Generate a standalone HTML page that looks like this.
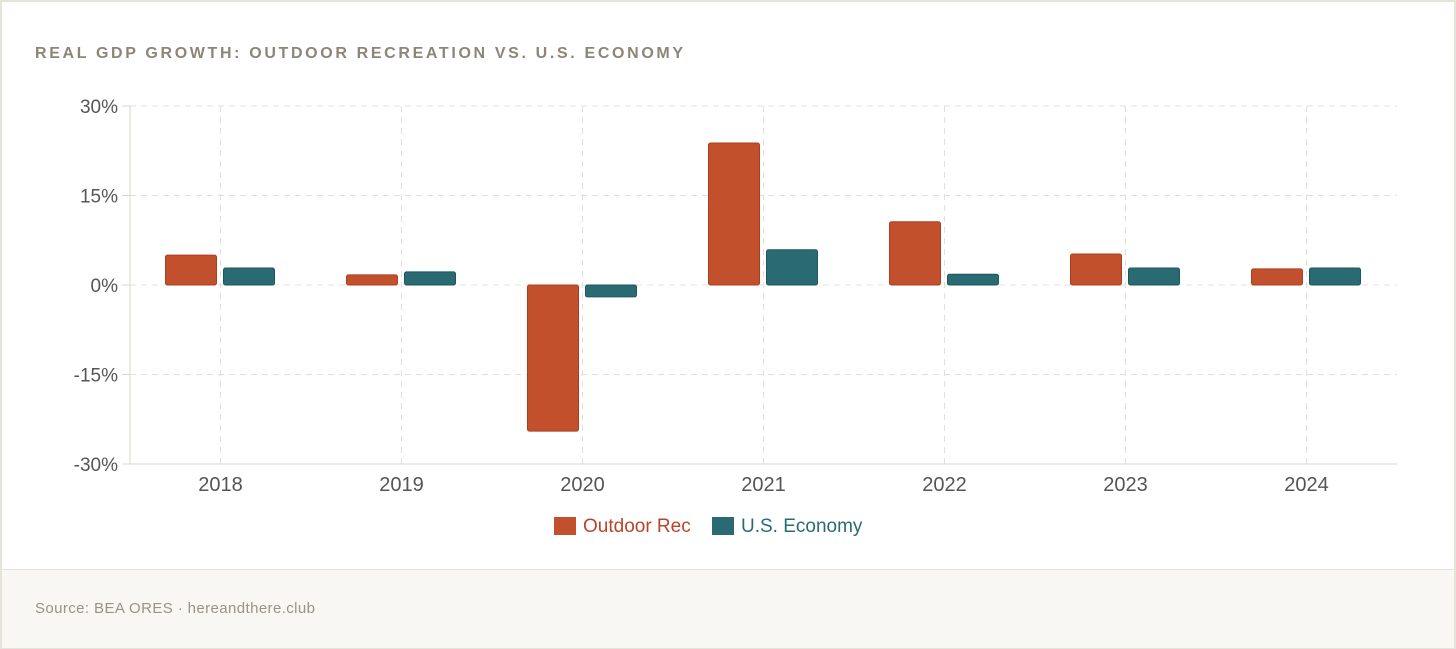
<!DOCTYPE html>
<html><head><meta charset="utf-8"><style>
html,body{margin:0;padding:0;background:#fff;}
body{width:1456px;height:649px;overflow:hidden;font-family:"Liberation Sans",sans-serif;}
.card{position:absolute;left:0;top:0;width:1452px;height:645px;border:2px solid #e6e3da;background:#fff;}
.title{position:absolute;left:33px;top:43px;font-size:16px;font-weight:bold;letter-spacing:2.65px;color:#8d8577;}
.footer{position:absolute;left:0;top:567px;width:1452px;height:78px;background:#f8f7f4;border-top:1px solid #e6e3da;}
.src{position:absolute;left:33px;top:30px;font-size:15px;letter-spacing:0.4px;color:#9a9385;}
svg{position:absolute;left:0;top:0;}
</style></head><body>
<div class="card">
<div class="title">REAL GDP GROWTH: OUTDOOR RECREATION VS. U.S. ECONOMY</div>
<div class="footer"><div class="src">Source: BEA ORES · hereandthere.club</div></div>
</div>
<svg id="chart" width="1456" height="560"></svg>
<script>
const categories=["2018","2019","2020","2021","2022","2023","2024"];
const outdoorRec=[5.0,1.7,-24.5,23.8,10.6,5.2,2.7];
const usEconomy=[2.85,2.2,-2.0,5.9,1.8,2.85,2.85];
const yTicks=[30,15,0,-15,-30];
const yTickLabels=["30%","15%","0%","-15%","-30%"];
const NS="http://www.w3.org/2000/svg";
const svg=document.getElementById('chart');
const X0=130,X1=1397,Y0=106,Y1=464;
const band=(X1-X0)/categories.length;
function y(v){return Y0+(30-v)/60*(Y1-Y0);}
function xc(i){return X0+band*(i+0.5);}
function mk(t,a){const e=document.createElementNS(NS,t);for(const k in a)e.setAttribute(k,a[k]);svg.appendChild(e);return e;}
yTicks.forEach((v,i)=>{
 const g=mk('line',{x1:X0,x2:X1,y1:y(v),y2:y(v),stroke:'#e2e0db','stroke-dasharray':'6,5'});
 
 const tk=mk('line',{x1:X0-8,x2:X0,y1:y(v),y2:y(v),stroke:'#d9d6c8'});
 
 const t=mk('text',{x:X0-12,y:y(v)+7,'text-anchor':'end','font-size':'19',fill:'#555','font-family':'Liberation Sans'});
 t.textContent=yTickLabels[i];
 
});
categories.forEach((c,i)=>{
 const g=mk('line',{x1:xc(i),x2:xc(i),y1:Y0,y2:Y1,stroke:'#e2e0db','stroke-dasharray':'6,5'});
 
});
const ax=mk('line',{x1:X0,x2:X0,y1:Y0,y2:Y1,stroke:'#d9d6c8'});

const bx=mk('line',{x1:X0,x2:X1,y1:Y1,y2:Y1,stroke:'#d9d6c8'});

function bar(v,x,fill,stroke,name){
 const top=Math.min(y(v),y(0)),h=Math.abs(y(v)-y(0));
 const r=mk('rect',{x:x,y:top,width:51,height:h,fill:fill,stroke:stroke,'stroke-width':1,rx:2});
 
}
categories.forEach((c,i)=>{
 bar(outdoorRec[i],xc(i)-55,'#c2502d','#a8401f','bar-outdoor-rec-'+c);
 bar(usEconomy[i],xc(i)+3,'#2a6b73','#1e565d','bar-us-economy-'+c);
 const t=mk('text',{x:xc(i),y:491,'text-anchor':'middle','font-size':'20',fill:'#555','font-family':'Liberation Sans'});
 t.textContent=c;
 
});
const l1=mk('rect',{x:554,y:517,width:22,height:18,fill:'#c2502d'});

const lt1=mk('text',{x:583,y:532,'font-size':'19',fill:'#b8452a','font-family':'Liberation Sans'});lt1.textContent='Outdoor Rec';

const l2=mk('rect',{x:712,y:517,width:22,height:18,fill:'#2a6b73'});

const lt2=mk('text',{x:741,y:532,'font-size':'19',fill:'#2a6b73','font-family':'Liberation Sans'});lt2.textContent='U.S. Economy';

</script>
</body></html>
